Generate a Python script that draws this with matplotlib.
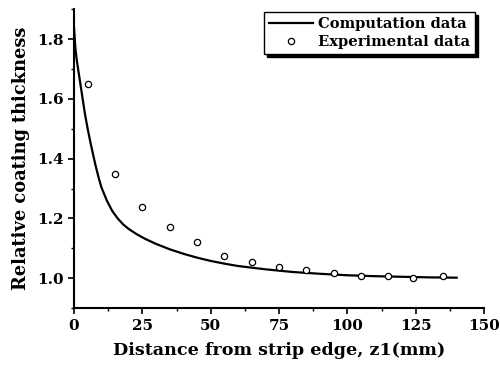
import matplotlib
matplotlib.use("Agg")
import matplotlib.pyplot as plt
from matplotlib.ticker import MultipleLocator

# Computation curve
comp_x = [0, 0.5, 1, 1.5, 2, 3, 4, 5, 6, 7, 8, 9, 10, 12, 14, 16, 18, 20,
          23, 26, 30, 35, 40, 45, 50, 55, 60, 70, 80, 90, 100, 110, 120,
          130, 140]
comp_y = [1.84, 1.77, 1.73, 1.70, 1.67, 1.61, 1.55, 1.50, 1.455, 1.413,
          1.373, 1.337, 1.305, 1.26, 1.225, 1.20, 1.18, 1.165, 1.147, 1.132,
          1.115, 1.097, 1.082, 1.069, 1.058, 1.049, 1.041, 1.030, 1.021,
          1.015, 1.010, 1.007, 1.005, 1.003, 1.002]

# Experimental data
exp_x = [5, 15, 25, 35, 45, 55, 65, 75, 85, 95, 105, 115, 124, 135]
exp_y = [1.65, 1.35, 1.24, 1.172, 1.121, 1.076, 1.053, 1.037, 1.027, 1.017,
         1.009, 1.006, 1.001, 1.006]

x_ticks = [0, 25, 50, 75, 100, 125, 150]
y_ticks = [1.0, 1.2, 1.4, 1.6, 1.8]

plt.rcParams['font.family'] = ['DejaVu Serif']
plt.rcParams['font.weight'] = 'bold'

fig = plt.figure(figsize=(5.0, 3.66), dpi=100)
ax = fig.add_axes([0.148, 0.158, 0.82, 0.817])

ax.plot(comp_x, comp_y, color='black', lw=1.6, label='Computation data')
ax.plot(exp_x, exp_y, 'o', mfc='white', mec='black', mew=0.9, ms=4.5,
        label='Experimental data')

ax.set_xlim(0, 150)
ax.set_ylim(0.9, 1.9)
ax.set_xticks(x_ticks)
ax.set_yticks(y_ticks)
ax.set_yticklabels(['%.1f' % v for v in y_ticks])
ax.xaxis.set_minor_locator(MultipleLocator(12.5))
ax.yaxis.set_minor_locator(MultipleLocator(0.1))
ax.tick_params(which='major', direction='out', length=4, width=1.2,
               labelsize=11)
ax.tick_params(which='minor', direction='out', length=2, width=1)

for s in ['top', 'right']:
    ax.spines[s].set_visible(False)
for s in ['left', 'bottom']:
    ax.spines[s].set_linewidth(1.5)

for lab in ax.get_xticklabels() + ax.get_yticklabels():
    lab.set_fontweight('bold')

ax.set_xlabel('Distance from strip edge, z1(mm)', fontsize=12.6,
              fontweight='bold', labelpad=7)
ax.set_ylabel('Relative coating thickness', fontsize=12.8,
              fontweight='bold', labelpad=5)

leg = ax.legend(loc='upper right', bbox_to_anchor=(0.978, 0.99),
                frameon=True, fancybox=False,
                shadow={'color': 'black', 'alpha': 1.0},
                prop={'weight': 'bold', 'size': 10.6}, handlelength=3.0,
                borderpad=0.35, labelspacing=0.25, handletextpad=0.3,
                borderaxespad=0.0)
leg.get_frame().set_edgecolor('black')
leg.get_frame().set_linewidth(1.0)

fig.savefig('out.png', dpi=100)
